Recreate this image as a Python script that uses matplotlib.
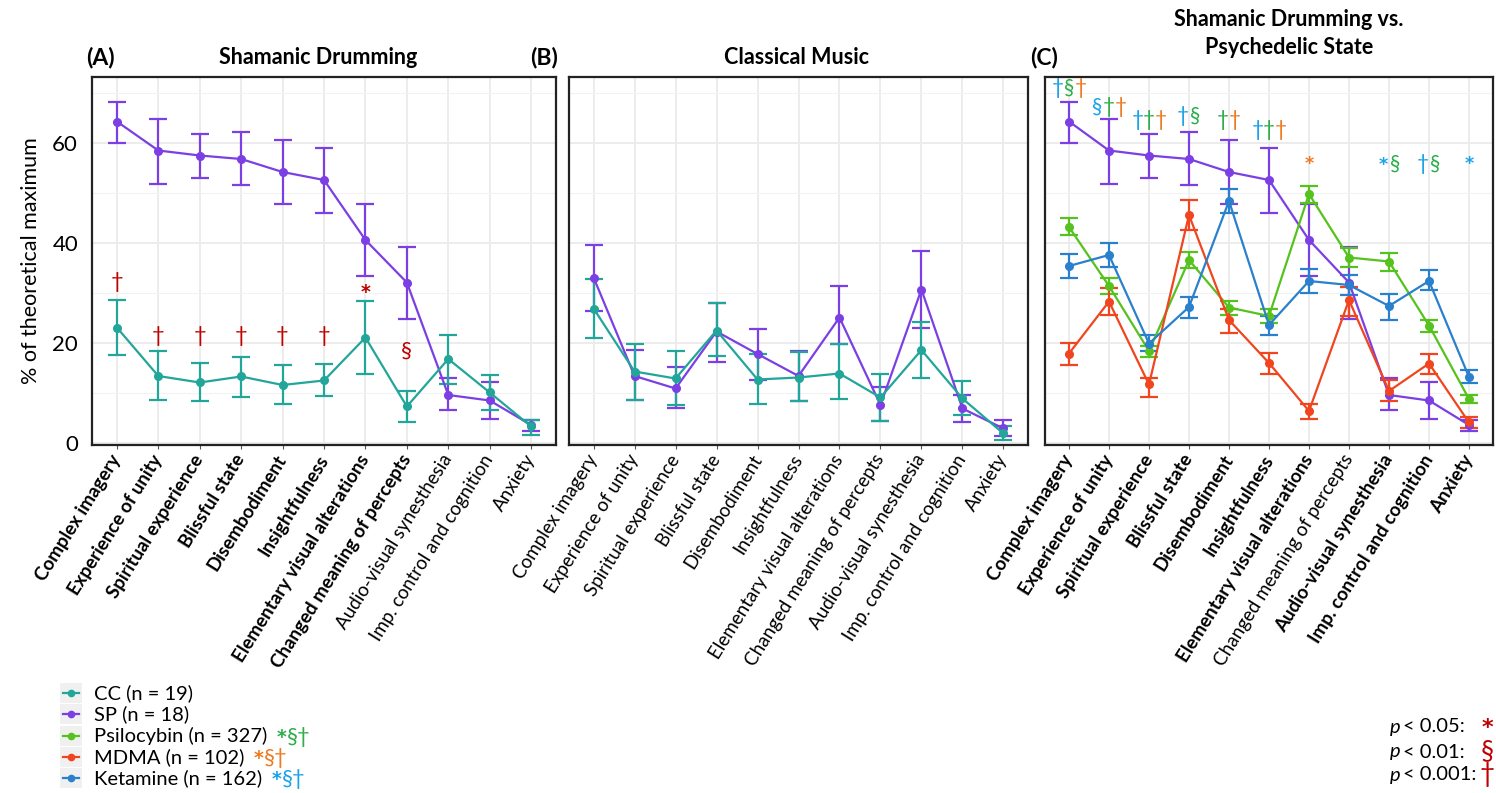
import matplotlib
matplotlib.use('Agg')
import matplotlib.pyplot as plt
import numpy as np
from matplotlib.patches import Rectangle
from matplotlib.lines import Line2D

plt.rcParams['font.family'] = ['Lato', 'DejaVu Sans']

# ---------------- data ----------------
categories = ["Complex imagery", "Experience of unity", "Spiritual experience",
              "Blissful state", "Disembodiment", "Insightfulness",
              "Elementary visual alterations", "Changed meaning of percepts",
              "Audio-visual synesthesia", "Imp. control and cognition", "Anxiety"]

# Panel A: Shamanic drumming
sp_a_mean = [64.3, 58.5, 57.5, 56.8, 54.2, 52.6, 40.6, 32.1, 9.6, 8.5, 3.6]
sp_a_lo = [60.1, 51.9, 53.1, 51.6, 47.8, 46.0, 33.4, 24.9, 6.5, 4.7, 2.3]
sp_a_hi = [68.3, 64.8, 61.9, 62.3, 60.7, 59.1, 47.9, 39.3, 12.9, 12.1, 4.6]
cc_a_mean = [23.1, 13.4, 12.1, 13.3, 11.6, 12.5, 21.1, 7.3, 16.8, 10.1, 3.3]
cc_a_lo = [17.7, 8.5, 8.3, 9.1, 7.7, 9.3, 13.9, 4.1, 11.8, 6.5, 1.6]
cc_a_hi = [28.6, 18.4, 16.1, 17.3, 15.6, 15.8, 28.5, 10.3, 21.7, 13.6, 4.6]

# Panel B: Classical music
sp_b_mean = [33.1, 13.4, 10.9, 22.3, 17.8, 13.4, 25.1, 7.6, 30.7, 6.9, 2.9]
sp_b_lo = [26.5, 8.5, 6.9, 16.3, 12.6, 8.3, 19.9, 4.3, 23.1, 4.1, 1.3]
sp_b_hi = [39.7, 18.6, 15.3, 28.1, 22.9, 18.4, 31.5, 11.1, 38.4, 9.6, 4.5]
cc_b_mean = [26.9, 14.3, 12.9, 22.5, 12.7, 13.1, 13.9, 9.1, 18.6, 8.9, 1.9]
cc_b_lo = [21.1, 8.5, 7.6, 17.4, 7.7, 8.3, 8.7, 4.3, 12.9, 5.6, 0.6]
cc_b_hi = [32.9, 19.9, 18.4, 28.0, 17.9, 18.3, 19.9, 13.9, 24.3, 12.3, 3.4]

# Panel C: psychedelic states
psi_mean = [43.2, 31.4, 18.4, 36.6, 27.1, 25.4, 49.8, 37.1, 36.3, 23.5, 8.8]
psi_lo = [41.6, 29.8, 17.2, 35.1, 25.6, 24.1, 48.1, 35.3, 34.4, 22.3, 8.0]
psi_hi = [45.0, 33.0, 19.4, 38.2, 28.5, 26.8, 51.5, 39.0, 38.1, 24.6, 9.6]
mdma_mean = [17.9, 28.3, 11.7, 45.6, 24.6, 16.0, 6.4, 28.6, 10.4, 15.9, 4.1]
mdma_lo = [15.6, 25.6, 9.2, 42.6, 22.0, 13.8, 4.8, 25.4, 8.3, 13.9, 3.0]
mdma_hi = [20.0, 31.1, 13.1, 48.6, 26.8, 18.0, 7.8, 31.2, 12.6, 17.9, 5.2]
ket_mean = [35.4, 37.6, 19.9, 27.2, 48.4, 23.6, 32.4, 31.6, 27.4, 32.4, 13.2]
ket_lo = [33.1, 35.3, 18.4, 25.1, 46.0, 21.6, 30.1, 29.6, 24.6, 30.6, 11.9]
ket_hi = [37.8, 40.0, 21.6, 29.2, 50.9, 25.4, 34.9, 33.6, 29.9, 34.6, 14.6]

bold_a = [True] * 8 + [False] * 3
bold_b = [False] * 11
bold_c = [True] * 7 + [False] + [True] * 3

# significance annotations
sig_a = ["†", "†", "†", "†", "†", "†", "*", "§", "", "", ""]
sig_a_y = [31.1, 20.1, 20.1, 20.1, 20.1, 20.1, 29.0, 17.3, 0, 0, 0]
sig_c = [["†", "§", "†"], ["§", "†", "†"], ["†", "†", "†"], ["†", "§"], ["†", "†"],
         ["†", "†", "†"], ["*"], [], ["*", "§"], ["†", "§"], ["*"]]
sig_c_groups = [["k", "p", "m"], ["k", "p", "m"], ["k", "p", "m"], ["k", "p"], ["p", "m"],
                ["k", "p", "m"], ["m"], [], ["k", "p"], ["k", "p"], ["k"]]
sig_c_y = [69.8, 66.1, 63.5, 64.3, 63.5, 61.3, 54.8, 0, 54.6, 54.6, 54.8]

legend_labels = ["CC (n = 19)", "SP (n = 18)", "Psilocybin (n = 327)",
                 "MDMA (n = 102)", "Ketamine (n = 162)"]

# ---------------- style ----------------
C_CC = "#22A699"
C_SP = "#7B3FE4"
C_PSI = "#55C21E"
C_MDMA = "#F0451F"
C_KET = "#2A80CC"
A_COL = {"k": "#1AA3E8", "p": "#2DAE4A", "m": "#EF7A22"}
RED = "#C00000"

W, H = 1496, 793
fig = plt.figure(figsize=(W / 100, H / 100), dpi=100)


def ax_at(l, r, t, b):
    return fig.add_axes([l / W, 1 - b / H, (r - l) / W, (b - t) / H])


def ftext(px, py, s, **kw):
    return fig.text(px / W, 1 - py / H, s, **kw)


def sym_kw(ch, fs):
    # the asterisk is drawn from DejaVu Sans Bold so it is as heavy as the original
    if ch == "*":
        return dict(fontsize=fs * 0.85, family=['DejaVu Sans'], fontweight='bold')
    return dict(fontsize=fs, family=['Lato', 'DejaVu Sans'])


x = np.arange(len(categories))


def style(ax, bold, show_y):
    ax.set_xlim(-0.6, 10.6)
    ax.set_ylim(-0.4, 73.2)
    ax.set_xticks(x)
    ax.set_yticks([0, 20, 40, 60])
    ax.set_yticks([10, 30, 50, 70], minor=True)
    ax.grid(True, which='major', color='#EBEBEB', lw=1.3)
    ax.grid(True, which='minor', axis='y', color='#F2F2F2', lw=0.8)
    ax.set_axisbelow(True)
    for s in ax.spines.values():
        s.set_linewidth(1.6)
        s.set_color('#222222')
    ax.set_xticklabels(categories, rotation=58, ha='right', va='center',
                       rotation_mode='anchor', fontsize=13.5)
    for lab, b in zip(ax.get_xticklabels(), bold):
        lab.set_fontweight('bold' if b else 'normal')
    ax.tick_params(axis='x', length=3, color='#555555', pad=5)
    ax.tick_params(axis='y', which='both', length=0, pad=10, labelsize=16)
    if not show_y:
        ax.set_yticklabels([])


def series(ax, mean, lo, hi, color):
    m = np.array(mean)
    yerr = [m - np.array(lo), np.array(hi) - m]
    ax.errorbar(x, m, yerr=yerr, color=color, lw=1.6, marker='o', ms=5.5,
                capsize=6.5, capthick=1.6, elinewidth=1.6, zorder=3)


def multi_sym(ax, xi, y, chars, cols, fs, step):
    n = len(chars)
    for j, (ch, c) in enumerate(zip(chars, cols)):
        dx = (j - (n - 1) / 2) * step
        ax.annotate(ch, xy=(xi, y), xytext=(dx, 0), textcoords='offset points',
                    ha='center', va='baseline', color=c,
                    annotation_clip=False, **sym_kw(ch, fs))


axA = ax_at(92, 556, 77, 445)
axB = ax_at(569, 1028, 77, 445)
axC = ax_at(1045, 1493, 77, 445)

style(axA, bold_a, True)
style(axB, bold_b, False)
style(axC, bold_c, False)

series(axA, sp_a_mean, sp_a_lo, sp_a_hi, C_SP)
series(axA, cc_a_mean, cc_a_lo, cc_a_hi, C_CC)
series(axB, sp_b_mean, sp_b_lo, sp_b_hi, C_SP)
series(axB, cc_b_mean, cc_b_lo, cc_b_hi, C_CC)
series(axC, sp_a_mean, sp_a_lo, sp_a_hi, C_SP)
series(axC, psi_mean, psi_lo, psi_hi, C_PSI)
series(axC, mdma_mean, mdma_lo, mdma_hi, C_MDMA)
series(axC, ket_mean, ket_lo, ket_hi, C_KET)

axA.set_ylabel("% of theoretical maximum", fontsize=15.5, labelpad=8)

for xi, s, y in zip(x, sig_a, sig_a_y):
    if s:
        axA.text(xi, y, s, ha='center', va='baseline', color=RED, **sym_kw(s, 16))

for xi, chars, grp, y in zip(x, sig_c, sig_c_groups, sig_c_y):
    if chars:
        multi_sym(axC, xi, y, chars, [A_COL[g] for g in grp], 15, 8.3)

# titles
ftext(100, 57, "(A)", fontsize=16.5, fontweight='bold', ha='center', va='center')
ftext(318, 57, "Shamanic Drumming", fontsize=15.5, fontweight='bold', ha='center', va='center')
ftext(544, 57, "(B)", fontsize=16.5, fontweight='bold', ha='center', va='center')
ftext(797, 57, "Classical Music", fontsize=15.5, fontweight='bold', ha='center', va='center')
ftext(1044, 57, "(C)", fontsize=16.5, fontweight='bold', ha='center', va='center')
ftext(1289, 20, "Shamanic Drumming vs.", fontsize=15.5, fontweight='bold', ha='center', va='center')
ftext(1289, 48, "Psychedelic State", fontsize=15.5, fontweight='bold', ha='center', va='center')

# legend (bottom-left)
leg_cols = [C_CC, C_SP, C_PSI, C_MDMA, C_KET]
leg_sig = [None, None, "p", "m", "k"]
row_y = [693, 714, 736, 757, 778]
fig.canvas.draw()
for lab, c, sg, ry in zip(legend_labels, leg_cols, leg_sig, row_y):
    fig.add_artist(Rectangle((60 / W, 1 - (ry + 10) / H), 22 / W, 20 / H,
                             transform=fig.transFigure, facecolor='#F0F0F0',
                             edgecolor='none'))
    fig.add_artist(Line2D([63 / W, 79 / W], [1 - ry / H, 1 - ry / H],
                          transform=fig.transFigure, color=c, lw=1.6))
    fig.add_artist(Line2D([71 / W], [1 - ry / H], transform=fig.transFigure,
                          color=c, marker='o', ms=4.5, lw=0))
    t = ftext(94, ry, lab, fontsize=14.5, ha='left', va='center')
    if sg:
        bb = t.get_window_extent(renderer=fig.canvas.get_renderer())
        x0 = bb.x1 + 14
        for j, ch in enumerate(["*", "§", "†"]):
            fig.text((x0 + j * 11) / W, 1 - (ry + 7) / H, ch, color=A_COL[sg],
                     ha='center', va='baseline', **sym_kw(ch, 16))

# p-value legend (bottom-right)
p_rows = [("< 0.05:", "*", 727), ("< 0.01:", "§", 752), ("< 0.001:", "†", 775)]
for txt, sym, ry in p_rows:
    ftext(1400, ry, "p", fontsize=14.5, style='italic', ha='right', va='center')
    ftext(1403, ry, txt, fontsize=14.5, ha='left', va='center')
    ftext(1487, ry + 7, sym, color=RED, ha='center', va='baseline', **sym_kw(sym, 19))

fig.savefig("out.png", dpi=100)
